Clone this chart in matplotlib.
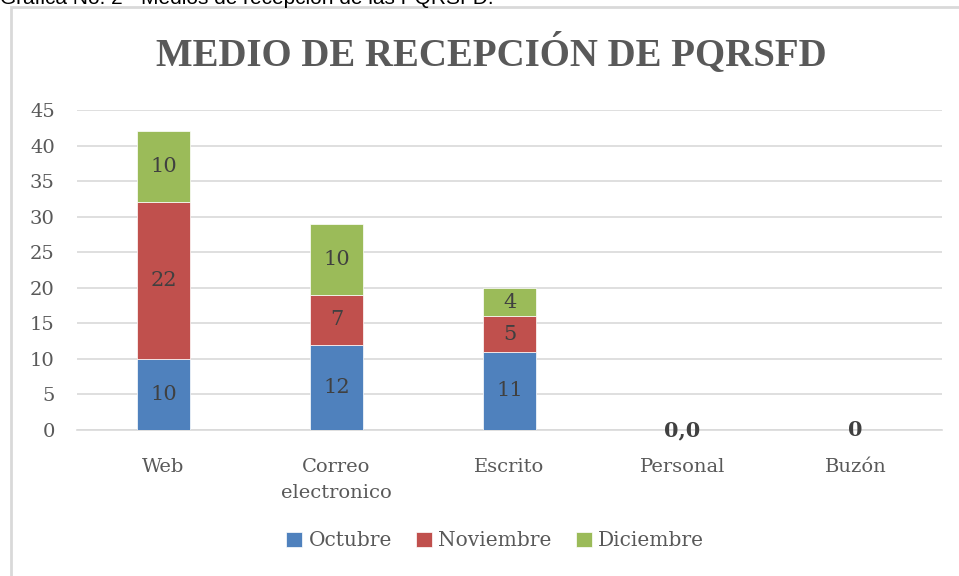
import matplotlib
matplotlib.use("Agg")
import matplotlib.pyplot as plt
from matplotlib.patches import Rectangle

categories = ["Web", "Correo\nelectronico", "Escrito", "Personal", "Buzón"]
series_names = ["Octubre", "Noviembre", "Diciembre"]
octubre = [10, 12, 11, 0, 0]
noviembre = [22, 7, 5, 0, 0]
diciembre = [10, 10, 4, 0, 0]
zero_labels = {3: "0,0", 4: "0"}
yticks = [0, 5, 10, 15, 20, 25, 30, 35, 40, 45]
colors = ["#4F81BD", "#C0504D", "#9BBB59"]

plt.rcParams['font.family'] = ['DejaVu Serif']
fig = plt.figure(figsize=(9.59, 5.76), dpi=100)

# outer frame (chart area border)
fig.patches.append(Rectangle((11/959, -0.01), 1.0, 1 - 7/576 + 0.01,
                             transform=fig.transFigure, fill=False,
                             edgecolor="#D9D9D9", linewidth=2.0))
# caption partially cut at the top
fig.text(0.0, 1 + 1/576, "Grafica No. 2 - Medios de recepción de las PQRSFD.",
         ha="left", va="center", fontsize=15, family="Liberation Sans", color="#000000")

ax = fig.add_axes([77/959, 1 - 430/576, (942 - 77)/959, (430 - 110)/576])
x = range(len(categories))
width = 0.31
bottoms = [0] * len(categories)
for vals, name, c in zip([octubre, noviembre, diciembre], series_names, colors):
    ax.bar(x, vals, width, bottom=bottoms, color=c, label=name,
           edgecolor="white", linewidth=0.5, zorder=3)
    for i, (v, b) in enumerate(zip(vals, bottoms)):
        if v > 0:
            ax.text(i, b + v / 2, str(v), ha="center", va="center",
                    fontsize=15, color="#404040", zorder=4)
    bottoms = [b + v for b, v in zip(bottoms, vals)]

for i, lab in zero_labels.items():
    ax.text(i, bottoms[i], lab, ha="center", va="center", fontsize=15,
            color="#404040", fontweight="bold", zorder=4)

ax.set_xlim(-0.5, len(categories) - 0.5)
ax.set_ylim(0, 45)
ax.set_yticks(yticks)
ax.set_xticks(list(x))
ax.set_xticklabels(categories, fontsize=14, color="#595959", linespacing=1.6)
ax.tick_params(axis="y", labelsize=14, labelcolor="#595959", length=0, pad=16)
ax.tick_params(axis="x", length=0, pad=20)
ax.grid(axis="y", color="#D9D9D9", linewidth=1.2, zorder=0)
for s in ["top", "right", "left"]:
    ax.spines[s].set_visible(False)
ax.spines["bottom"].set_color("#D9D9D9")
ax.spines["bottom"].set_linewidth(1.2)

fig.text(491/959, 1 - 54/576, "MEDIO DE RECEPCIÓN DE PQRSFD", ha="center", va="center",
         fontsize=28, fontweight="bold", color="#595959", family="Liberation Serif")

fig.legend(loc="center", bbox_to_anchor=(495/959, 1 - 541/576), ncol=3,
           frameon=False, fontsize=14.5, handlelength=0.8, handleheight=0.8,
           handletextpad=0.3, columnspacing=1.2, labelcolor="#595959")

fig.savefig("out.png", dpi=100)
